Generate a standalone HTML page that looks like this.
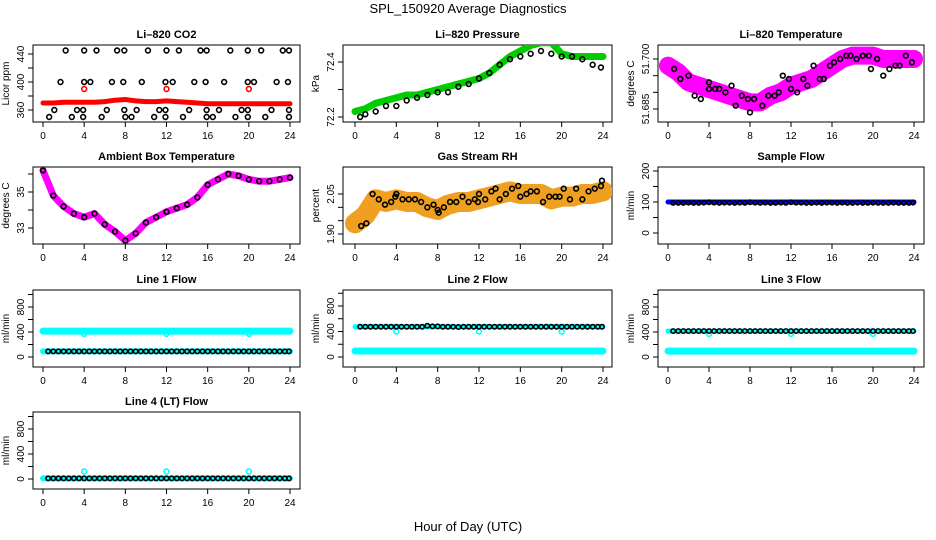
<!DOCTYPE html>
<html><head><meta charset="utf-8">
<style>
html,body{margin:0;padding:0;background:#fff;}
svg{display:block;font-family:"Liberation Sans",sans-serif;}
</style></head>
<body>
<svg id="chart" width="936" height="540" viewBox="0 0 936 540">
<text x="468" y="13" text-anchor="middle" font-size="13">SPL_150920  Average Diagnostics</text>
<text x="468" y="531" text-anchor="middle" font-size="13">Hour of Day (UTC)</text>
</svg>
<script>
// ---- shared data ----
const HOURS = [0,1,2,3,4,5,6,7,8,9,10,11,12,13,14,15,16,17,18,19,20,21,22,23,24];
const HALF = [0.5,1,1.5,2,2.5,3,3.5,4,4.5,5,5.5,6,6.5,7,7.5,8,8.5,9,9.5,10,10.5,11,11.5,12,12.5,13,13.5,14,14.5,15,15.5,16,16.5,17,17.5,18,18.5,19,19.5,20,20.5,21,21.5,22,22.5,23,23.5,23.9];
const X_TICKS = [0,4,8,12,16,20,24];

// CO2
const co2Band = [370,370,371,371,371,371,372,374,375,373,372,372,373,372,371,370,369,369,369,369,369,369,369,369,369];
const co2HighH = [2.2,4.0,5.2,7.2,7.9,10.2,12.0,13.2,15.3,15.9,18.2,19.9,21.2,23.3,23.9];
const co2HighV = [445,445,445,445,445,445,445,445,445,445,445,445,445,445,445];
const co2MidH = [1.7,4.0,4.6,6.7,7.8,9.6,11.9,12.6,14.7,15.8,17.6,19.9,20.5,22.7,23.8];
const co2MidV = [400,400,400,400,400,400,400,400,400,400,400,400,400,400,400];
const co2LowH = [1.1,3.3,3.9,6.2,7.9,9.1,11.3,11.9,14.2,15.9,17.1,19.3,19.9,22.2,23.9];
const co2LowV = [360,360,360,360,360,360,360,360,360,360,360,360,360,360,360];
const co2BotH = [0.6,2.8,3.9,5.7,8.0,8.6,10.8,11.9,13.6,15.9,16.5,18.7,19.9,21.6,23.9];
const co2BotV = [350,350,350,350,350,350,350,350,350,350,350,350,350,350,350];
const co2RedH = [4,12,20];
const co2RedV = [390,390,390];
// Pressure
const presGreen = [72.22,72.23,72.25,72.26,72.27,72.28,72.28,72.29,72.30,72.31,72.32,72.33,72.34,72.36,72.39,72.42,72.44,72.46,72.47,72.47,72.43,72.42,72.42,72.42,72.42];
const presBlackH = [0.5,1,2,3,4,5,6,7,8,9,10,11,12,13,14,15,16,17,18,19,20,21,22,23,23.8];
const presBlackV = [72.20,72.21,72.22,72.24,72.24,72.26,72.27,72.28,72.29,72.29,72.31,72.32,72.34,72.36,72.39,72.41,72.42,72.43,72.44,72.43,72.42,72.42,72.41,72.39,72.38];
// Li-820 temperature
const tempMag = [51.698,51.696,51.693,51.692,51.691,51.690,51.689,51.688,51.687,51.687,51.689,51.690,51.692,51.693,51.694,51.696,51.698,51.700,51.701,51.701,51.701,51.700,51.700,51.700,51.700];
const tempBlackH = [0.6,1.2,2,2.6,3.2,4,4,4.6,5,5.6,6.2,6.6,7.2,7.8,8,8.4,9.2,9.8,10.4,10.8,11.2,11.8,12,12.6,13.2,13.6,14.2,14.8,15.2,15.8,16.2,16.8,17.4,17.8,18.4,19,19.6,19.8,20.4,21,21.6,22.2,22.6,23.2,23.8];
const tempBlackV = [51.697,51.694,51.695,51.689,51.688,51.693,51.691,51.691,51.691,51.690,51.692,51.686,51.689,51.688,51.684,51.688,51.686,51.689,51.689,51.690,51.695,51.694,51.691,51.690,51.694,51.692,51.698,51.694,51.694,51.698,51.699,51.700,51.701,51.701,51.700,51.701,51.701,51.697,51.700,51.695,51.697,51.698,51.698,51.701,51.699];
// Ambient
const ambVals = [36.2,34.8,34.2,33.8,33.6,33.8,33.2,32.8,32.3,32.7,33.3,33.6,33.9,34.1,34.3,34.7,35.4,35.7,36.0,35.9,35.7,35.6,35.6,35.7,35.8];
// RH
const rhCloud = [1.94,1.97,2.03,2.02,2.03,2.02,2.02,2.00,1.99,2.01,2.02,2.02,2.03,2.04,2.05,2.06,2.05,2.05,2.05,2.03,2.04,2.04,2.05,2.05,2.06];
const rhBlackH = [0.6,1.1,1.7,2.3,2.9,3.5,3.9,4.0,4.6,5.2,5.8,6.4,7.0,7.6,8.0,8.1,8.6,9.2,9.8,10.4,11.0,11.6,11.9,12.0,12.6,13.2,13.6,14.0,14.6,15.2,15.8,16.0,16.6,17.0,17.6,18.2,18.8,19.4,19.8,20.2,20.8,21.4,22.0,22.6,23.2,23.8,23.9];
const rhBlackV = [1.93,1.94,2.05,2.03,2.01,2.02,2.04,2.05,2.03,2.03,2.03,2.02,2.00,2.01,1.99,1.98,2.00,2.02,2.02,2.04,2.02,2.03,2.02,2.05,2.03,2.06,2.07,2.03,2.05,2.07,2.08,2.04,2.05,2.06,2.06,2.02,2.04,2.04,2.04,2.07,2.03,2.07,2.03,2.06,2.07,2.08,2.10];
// Flows
const sampleBlack = [97,97,97,98,97,97,98,99,98,97,98,98,97,98,97,99,98,97,98,97,97,98,97,99,98,98,97,97,98,97,98,98,97,98,97,97,98,97,97,98,97,97,97,98,97,97,97,98];
const sampleBlue = [100,100,100,100,100,100,100,100,100,100,100,100,100,100,100,100,100,100,100,100,100,100,100,100,100];
const l1High = [415,415,415,415,415,415,415,415,415,415,415,415,415,415,415,415,415,415,415,415,415,415,415,415,415];
const l1Cyan = [90,90,90,90,90,90,90,90,90,90,90,90,90,90,90,90,90,90,90,90,90,90,90,90,90];
const l1Low = [90,90,90,90,90,90,90,90,90,90,90,90,90,90,90,90,90,90,90,90,90,90,90,90,90,90,90,90,90,90,90,90,90,90,90,90,90,90,90,90,90,90,90,90,90,90,90,90];
const l2High = [475,475,475,475,475,475,475,475,475,475,475,475,475,490,480,480,475,475,475,470,475,475,475,475,475,475,475,475,475,475,475,475,475,475,475,475,475,475,475,475,475,475,475,475,475,475,475,475];
const l2CyanHigh = [475,475,475,475,475,475,475,475,475,475,475,475,475,475,475,475,475,475,475,475,475,475,475,475,475];
const l2Cyan = [95,95,95,95,95,95,95,95,95,95,95,95,95,95,95,95,95,95,95,95,95,95,95,95,95];
const l3High = [415,415,415,415,415,415,415,415,415,415,415,415,415,415,415,415,415,415,415,415,415,415,415,415,415,415,415,415,415,415,415,415,415,415,415,415,415,415,415,415,415,415,415,415,415,415,415,415];
const l3CyanHigh = [415,415,415,415,415,415,415,415,415,415,415,415,415,415,415,415,415,415,415,415,415,415,415,415,415];
const l3Cyan = [95,95,95,95,95,95,95,95,95,95,95,95,95,95,95,95,95,95,95,95,95,95,95,95,95];
const l4Black = [10,10,10,10,10,10,10,10,10,10,10,10,10,10,10,10,10,10,10,10,10,10,10,10,10,10,10,10,10,10,10,10,10,10,10,10,10,10,10,10,10,10,10,10,10,10,10,10];
const l4Cyan = [10,10,10,10,10,10,10,10,10,10,10,10,10,10,10,10,10,10,10,10,10,10,10,10,10];
const flowSpikeH = [4,12,20];
const l4Spike = [120,120,120];
const dipH = [4,12,20];
const l1Dip = [370,370,370];
const l2Dip = [400,400,400];
const l3Dip = [370,370,370];

const NS = "http://www.w3.org/2000/svg";
const svg = document.getElementById('chart');
function mk(tag, attrs, parent){
  const e = document.createElementNS(NS, tag);
  for (const k in attrs) e.setAttribute(k, attrs[k]);
  (parent||svg).appendChild(e);
  return e;
}

const COLS = [{l:33,r:300,x0:43,x24:290},{l:343,r:612,x0:355,x24:603},{l:658,r:924,x0:668,x24:914}];
const ROWS = [{t:45,b:122},{t:167,b:244},{t:290,b:367},{t:412,b:489}];

function panel(col,row,name,title,ylab,yref,yticks,ylabels){
  const C=COLS[col],R=ROWS[row];
  const g = mk('g',{});
  
  
  const sx = h => C.x0 + (C.x24-C.x0)*h/24;
  const sy = v => yref[1] + (v-yref[0])*(yref[3]-yref[1])/(yref[2]-yref[0]);
  const box = mk('rect',{x:C.l,y:R.t,width:C.r-C.l,height:R.b-R.t,fill:'none',stroke:'#000','stroke-width':1},g);
  
  
  const t = mk('text',{x:(C.l+C.r)/2,y:R.t-7,'text-anchor':'middle','font-size':11,'font-weight':'bold'},g);
  t.textContent = title;
  
  
  X_TICKS.forEach(h=>{
    const x=sx(h);
    mk('line',{x1:x,y1:R.b,x2:x,y2:R.b+5,stroke:'#000'},g);
    const tl = mk('text',{x:x,y:R.b+17,'text-anchor':'middle','font-size':10},g);
    tl.textContent = h;
    
    
  });
  yticks.forEach((v,i)=>{
    const y=sy(v);
    mk('line',{x1:C.l,y1:y,x2:C.l-5,y2:y,stroke:'#000'},g);
    if (ylabels[i]!==''){
      const tl = mk('text',{x:C.l-9,y:y,'text-anchor':'middle','font-size':10,transform:`rotate(-90 ${C.l-9} ${y})`},g);
      tl.textContent = ylabels[i];
      
      
    }
  });
  const yl = mk('text',{x:C.l-24,y:(R.t+R.b)/2,'text-anchor':'middle','font-size':10,transform:`rotate(-90 ${C.l-24} ${(R.t+R.b)/2})`},g);
  yl.textContent = ylab;
  
  
  const clip = 'clip'+col+row;
  const cp = mk('clipPath',{id:clip},g);
  mk('rect',{x:C.l,y:R.t,width:C.r-C.l,height:R.b-R.t},cp);
  const inner = mk('g',{'clip-path':`url(#${clip})`},g);
  return {
    band(hs,vs,color,w){
      const p = mk('polyline',{points:hs.map((h,i)=>sx(h)+','+sy(vs[i])).join(' '),fill:'none',stroke:color,'stroke-width':w,'stroke-linejoin':'round','stroke-linecap':'round'},inner);
      
      
    },
    pts(hs,vs,color,r){
      hs.forEach((h,i)=>{
        const c = mk('circle',{cx:sx(h),cy:sy(vs[i]),r:r||2.4,fill:'none',stroke:color,'stroke-width':1.6},inner);
        
        
      });
    }
  };
}

let p = panel(0,0,'panel-co2','Li\u2013820 CO2','Licor ppm',[360,110,440,54],[360,380,400,420,440],['360','','400','','440']);
p.band(HOURS,co2Band,'#ff0000',5);
p.pts(co2HighH,co2HighV,'#000');p.pts(co2MidH,co2MidV,'#000');p.pts(co2LowH,co2LowV,'#000');p.pts(co2BotH,co2BotV,'#000');
p.pts(co2RedH,co2RedV,'#ff0000');

p = panel(1,0,'panel-pressure','Li\u2013820 Pressure','kPa',[72.2,117,72.4,62],[72.2,72.3,72.4],['72.2','','72.4']);
p.band(HOURS,presGreen,'#00cc00',7);
p.pts(presBlackH,presBlackV,'#000');

p = panel(2,0,'panel-li820-temperature','Li\u2013820 Temperature','degrees C',[51.685,109,51.700,59],[51.685,51.690,51.695,51.700],['51.685','','','51.700']);
p.band(HOURS,tempMag,'#ff00ff',18);
p.pts(tempBlackH,tempBlackV,'#000');

p = panel(0,1,'panel-ambient-temperature','Ambient Box Temperature','degrees C',[33,228,35,192],[33,34,35,36],['33','','35','']);
p.band(HOURS,ambVals,'#ff00ff',7);
p.pts(HOURS,ambVals,'#000');

p = panel(1,1,'panel-gas-stream-rh','Gas Stream RH','percent',[1.90,234,2.05,194],[1.90,1.95,2.00,2.05],['1.90','','','2.05']);
p.band(HOURS,rhCloud,'#f0a020',20);
p.pts(rhBlackH,rhBlackV,'#000');

p = panel(2,1,'panel-sample-flow','Sample Flow','ml/min',[0,233,200,171],[0,50,100,150,200],['0','','100','','200']);
p.band(HOURS,sampleBlue,'#0000ff',5);
p.pts(HALF,sampleBlack,'#000',2.2);

const fref3 = [0,357,800,307], fref4=[0,479,800,429];
const fT=[0,200,400,600,800,1000], fL=['0','','400','','800',''];
p = panel(0,2,'panel-line1-flow','Line 1 Flow','ml/min',fref3,fT,fL);
p.band(HOURS,l1High,'#00ffff',7);
p.pts(dipH,l1Dip,'#00ffff');
p.band(HOURS,l1Cyan,'#00ffff',6);
p.pts(HALF,l1Low,'#000',2.2);

p = panel(1,2,'panel-line2-flow','Line 2 Flow','ml/min',[0,357,800,306],fT,fL);
p.band(HOURS,l2Cyan,'#00ffff',7);
p.band(HOURS,l2CyanHigh,'#00ffff',5);
p.pts(dipH,l2Dip,'#00ffff');
p.pts(HALF,l2High,'#000',2.2);

p = panel(2,2,'panel-line3-flow','Line 3 Flow','ml/min',fref3,fT,fL);
p.band(HOURS,l3Cyan,'#00ffff',7);
p.band(HOURS,l3CyanHigh,'#00ffff',5);
p.pts(dipH,l3Dip,'#00ffff');
p.pts(HALF,l3High,'#000',2.2);

p = panel(0,3,'panel-line4-flow','Line 4 (LT) Flow','ml/min',fref4,fT,fL);
p.band(HOURS,l4Cyan,'#00ffff',6);
p.pts(flowSpikeH,l4Spike,'#00ffff');
p.pts(HALF,l4Black,'#000',2.2);
</script>
</body></html>
